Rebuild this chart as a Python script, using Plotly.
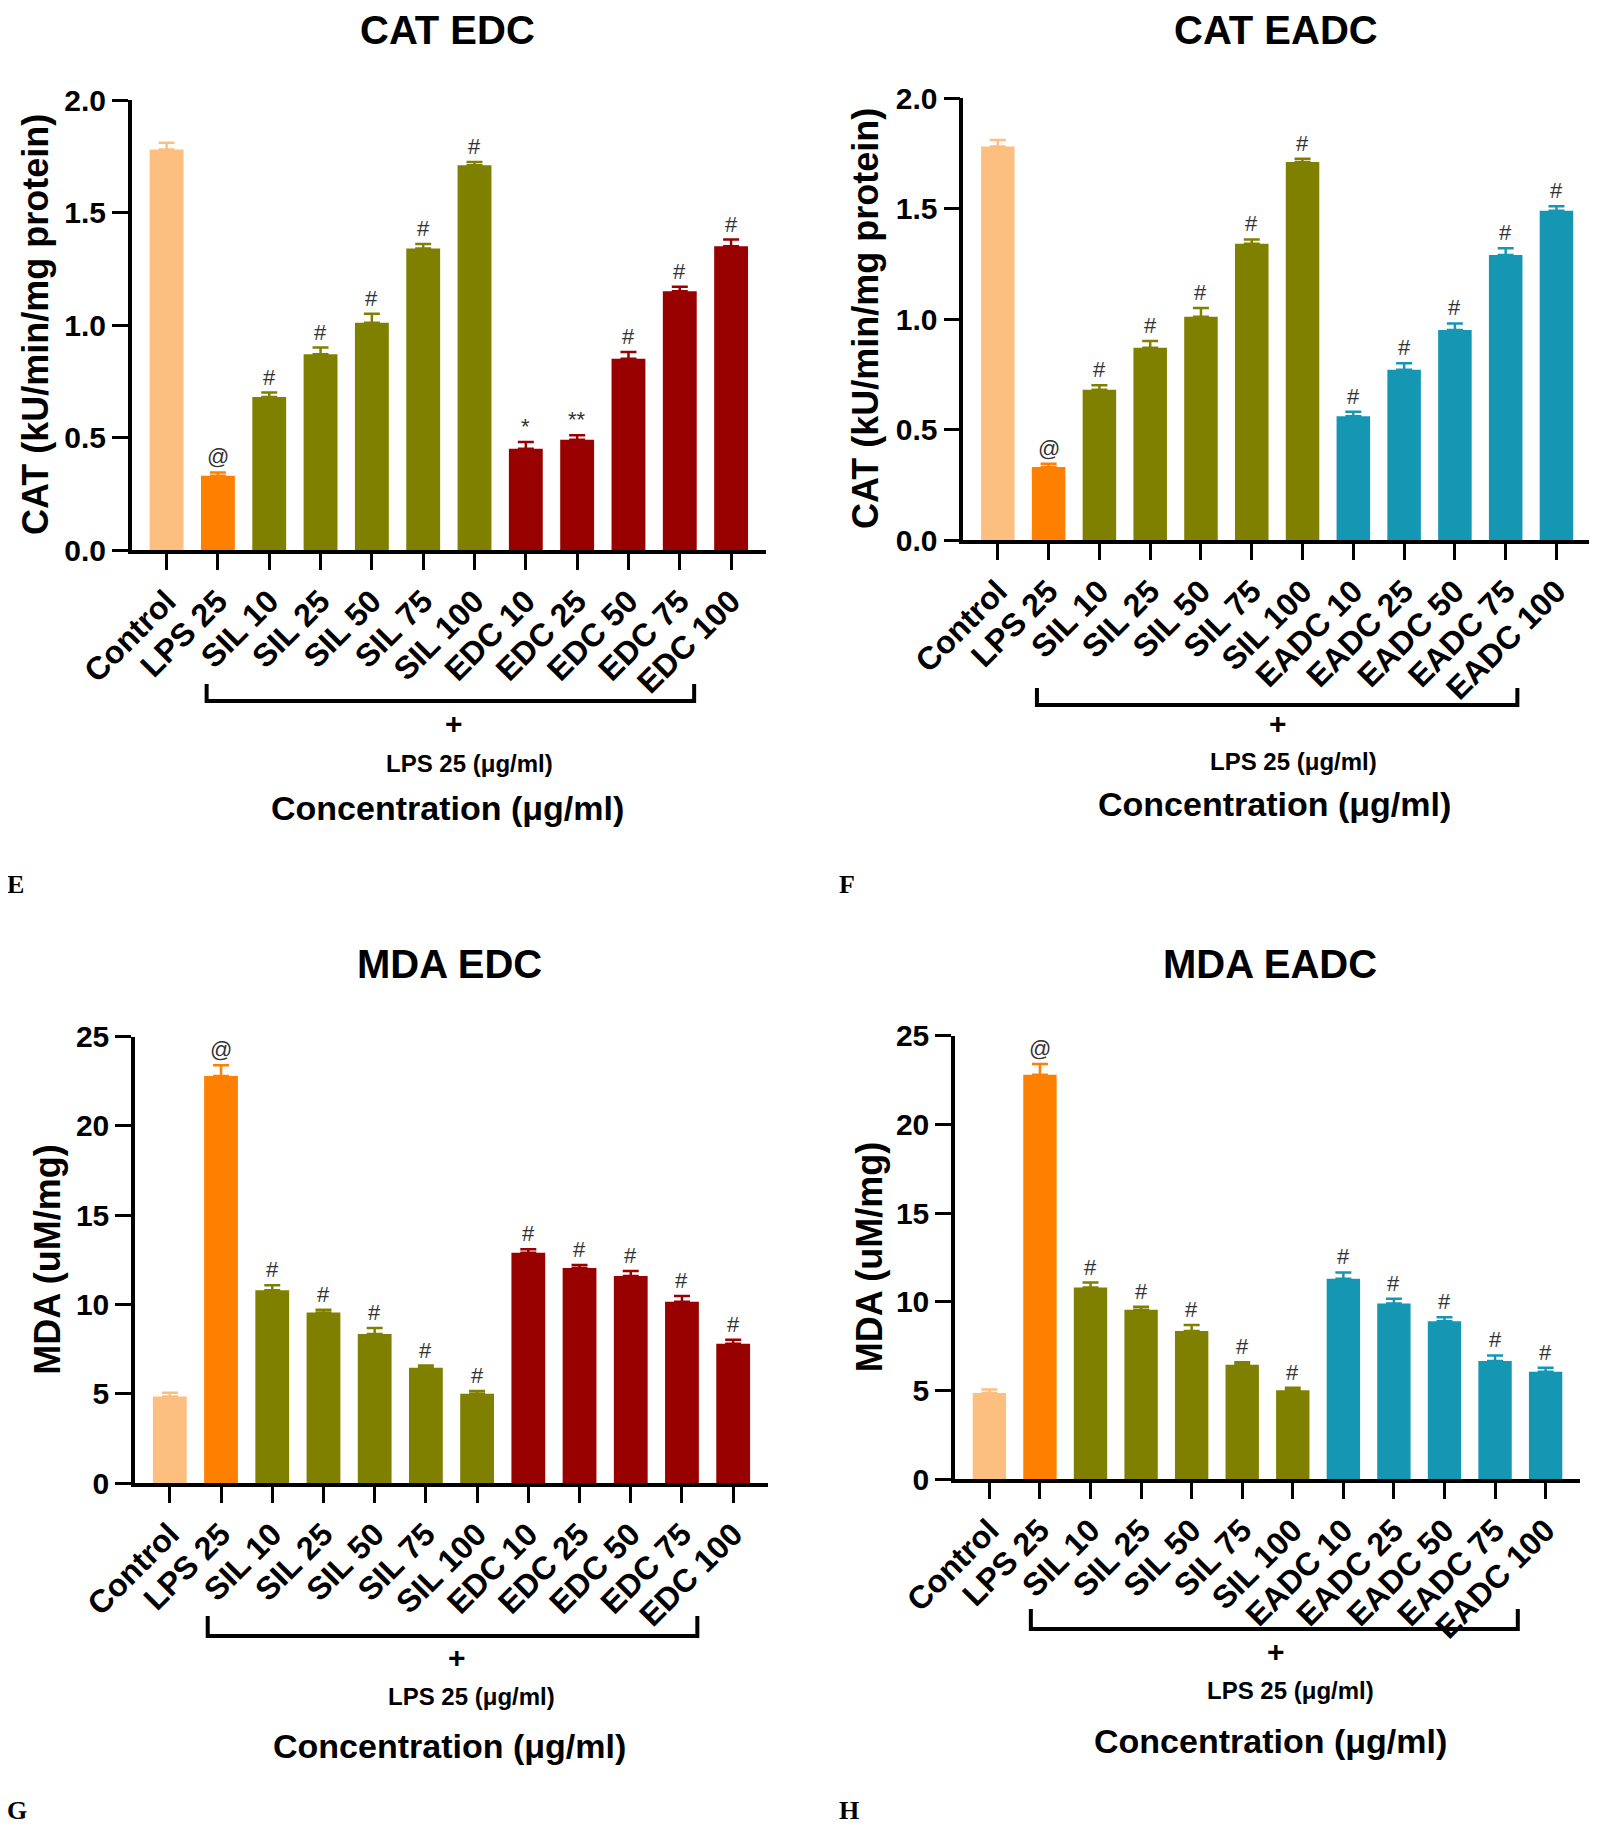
import plotly.graph_objects as go

# Tamaño de la ventana y del grafico (el body del html deja 8 px de margen)
W, H = 1597, 1826
OFF = 8
FW, FH = W - OFF, H - OFF

# Categorias
categorias_edc = ['Control', 'LPS 25', 'SIL 10', 'SIL 25', 'SIL 50', 'SIL 75', 'SIL 100',
                  'EDC 10', 'EDC 25', 'EDC 50', 'EDC 75', 'EDC 100']
categorias_eadc = ['Control', 'LPS 25', 'SIL 10', 'SIL 25', 'SIL 50', 'SIL 75', 'SIL 100',
                   'EADC 10', 'EADC 25', 'EADC 50', 'EADC 75', 'EADC 100']

# Datos CAT
cat_edc = [1.78, 0.33, 0.68, 0.87, 1.01, 1.34, 1.71, 0.45, 0.49, 0.85, 1.15, 1.35]
cat_edc_err = [0.03, 0.015, 0.02, 0.03, 0.04, 0.02, 0.015, 0.03, 0.02, 0.03, 0.02, 0.03]
cat_eadc = [1.78, 0.33, 0.68, 0.87, 1.01, 1.34, 1.71, 0.56, 0.77, 0.95, 1.29, 1.49]
cat_eadc_err = [0.03, 0.015, 0.02, 0.03, 0.04, 0.02, 0.015, 0.02, 0.03, 0.03, 0.03, 0.02]

# Datos MDA
mda_edc = [4.85, 22.8, 10.8, 9.55, 8.35, 6.45, 5.0, 12.9, 12.05, 11.6, 10.15, 7.8]
mda_edc_err = [0.2, 0.6, 0.28, 0.16, 0.33, 0.13, 0.15, 0.19, 0.16, 0.28, 0.32, 0.22]
mda_eadc = [4.85, 22.8, 10.8, 9.55, 8.35, 6.45, 5.0, 11.3, 9.9, 8.9, 6.65, 6.05]
mda_eadc_err = [0.2, 0.6, 0.28, 0.16, 0.33, 0.13, 0.15, 0.35, 0.26, 0.22, 0.32, 0.22]

# Marcas de significancia
marcas_cat_edc = ['', '@', '#', '#', '#', '#', '#', '*', '**', '#', '#', '#']
marcas_todas = ['', '@', '#', '#', '#', '#', '#', '#', '#', '#', '#', '#']

# Colores
c_control, c_lps, c_sil = '#FDBF80', '#FF8000', '#808000'
c_edc, c_eadc = '#990000', '#1597B4'
colores_edc = [c_control, c_lps] + [c_sil] * 5 + [c_edc] * 5
colores_eadc = [c_control, c_lps] + [c_sil] * 5 + [c_eadc] * 5

FUENTE = 'Liberation Sans, Arial, sans-serif'


def px(x, y):
    # pixeles de la ventana -> coordenadas paper
    return (x - OFF) / FW, 1 - (y - OFF) / FH


paneles = [
    dict(titulo='CAT EDC', cats=categorias_edc, vals=cat_edc, err=cat_edc_err, col=colores_edc,
         marcas=marcas_cat_edc, ytit='CAT (kU/min/mg protein)', rango=[0, 2.0], dtick=0.5, fmt='.1f',
         caja=(131.7, 766, 550, 100), tit=(447, 30), yt=35, br=(0.78, 10.28, 701, 684),
         mas=(454, 724), lps=(469, 764), conc=(447, 808), letra=('E', 5, 884)),
    dict(titulo='CAT EADC', cats=categorias_eadc, vals=cat_eadc, err=cat_eadc_err, col=colores_eadc,
         marcas=marcas_todas, ytit='CAT (kU/min/mg protein)', rango=[0, 2.0], dtick=0.5, fmt='.1f',
         caja=(963.3, 1591, 540, 98), tit=(1276, 30), yt=866, br=(0.77, 10.23, 705, 688),
         mas=(1278, 723), lps=(1293, 761), conc=(1274, 804), letra=('F', 837, 884)),
    dict(titulo='MDA EDC', cats=categorias_edc, vals=mda_edc, err=mda_edc_err, col=colores_edc,
         marcas=marcas_todas, ytit='MDA (uM/mg)', rango=[0, 25], dtick=5, fmt='d',
         caja=(135, 768, 1483, 1036.7), tit=(449, 964), yt=48, br=(0.74, 10.3, 1636, 1616),
         mas=(457, 1657), lps=(471, 1696), conc=(449, 1746), letra=('G', 5, 1810)),
    dict(titulo='MDA EADC', cats=categorias_eadc, vals=mda_eadc, err=mda_eadc_err, col=colores_eadc,
         marcas=marcas_todas, ytit='MDA (uM/mg)', rango=[0, 25], dtick=5, fmt='d',
         caja=(955, 1580, 1479, 1035.7), tit=(1270, 964), yt=869, br=(0.82, 10.45, 1629, 1609),
         mas=(1276, 1651), lps=(1290, 1690), conc=(1270, 1741), letra=('H', 837, 1810)),
]

fig = go.Figure()
anotaciones = []
formas = []


def texto(x, y, t, size, angle=0, bold=True, anchor='center', family=FUENTE):
    xp, yp = px(x, y)
    anotaciones.append(dict(x=xp, y=yp, xref='paper', yref='paper', text=t, showarrow=False,
                            xanchor=anchor, yanchor='middle', textangle=angle,
                            font=dict(family=family, size=size, color='black',
                                      weight='bold' if bold else 'normal')))


for i, p in enumerate(paneles, start=1):
    xa = 'x' if i == 1 else f'x{i}'
    ya = 'y' if i == 1 else f'y{i}'
    x0, x1, yb, yt = p['caja']
    dx0, dy0 = px(x0, yb)
    dx1, dy1 = px(x1, yt)

    # una traza por barra para que la barra de error tenga el color de su barra
    for c, v, e, col in zip(p['cats'], p['vals'], p['err'], p['col']):
        fig.add_trace(go.Bar(
            x=[c], y=[v], marker_color=col, marker_line_width=0, width=0.66,
            error_y=dict(type='data', symmetric=False, array=[e], arrayminus=[0],
                         color=col, thickness=2.5, width=8),
            xaxis=xa, yaxis=ya, showlegend=False))

    eje_x = dict(domain=[dx0, dx1], anchor=ya, type='category',
                 categoryorder='array', categoryarray=p['cats'], range=[-0.68, 11.68],
                 showline=True, linecolor='black', linewidth=3.5, ticks='outside',
                 ticklen=16, tickwidth=3, tickcolor='black', tickangle=-45,
                 tickfont=dict(family=FUENTE, size=32, color='black', weight='bold'),
                 showgrid=False, zeroline=False, fixedrange=True, automargin=False)
    eje_y = dict(domain=[dy0, dy1], anchor=xa, range=p['rango'], dtick=p['dtick'],
                 tickformat=p['fmt'], showline=True, linecolor='black', linewidth=3.5,
                 ticks='outside', ticklen=16, tickwidth=3, tickcolor='black',
                 tickfont=dict(family=FUENTE, size=30, color='black', weight='bold'),
                 showgrid=False, zeroline=False, fixedrange=True, automargin=False)
    fig.update_layout({('xaxis' if i == 1 else f'xaxis{i}'): eje_x,
                       ('yaxis' if i == 1 else f'yaxis{i}'): eje_y})

    # marcas de significancia sobre las barras
    for c, v, e, m in zip(p['cats'], p['vals'], p['err'], p['marcas']):
        if m:
            anotaciones.append(dict(x=c, y=v + e, xref=xa, yref=ya, text=m, showarrow=False,
                                    xanchor='center', yanchor='bottom', yshift=1,
                                    font=dict(family=FUENTE, size=22, color='#333333')))

    texto(*p['tit'], p['titulo'], 40)
    texto(p['yt'], (yb + yt) / 2, p['ytit'], 36, angle=-90)
    texto(*p['mas'], '+', 30)
    texto(*p['lps'], 'LPS 25 (μg/ml)', 24)
    texto(*p['conc'], 'Concentration (μg/ml)', 34)
    letra, lx, ly = p['letra']
    texto(lx, ly, letra, 26, anchor='left', family='Liberation Serif, Times New Roman, serif')

    # corchete de "+ LPS 25"
    bx0, bx1, by, btop = p['br']
    yb_p, yt_p = px(0, by)[1], px(0, btop)[1]
    formas.append(dict(type='path', xref=xa, yref='paper',
                       path=f'M {bx0},{yt_p} L {bx0},{yb_p} L {bx1},{yb_p} L {bx1},{yt_p}',
                       line=dict(color='black', width=4)))

fig.update_layout(width=FW, height=FH, margin=dict(l=0, r=0, t=0, b=0, autoexpand=False),
                  plot_bgcolor='white', paper_bgcolor='white', showlegend=False,
                  barmode='overlay', annotations=anotaciones, shapes=formas)

fig.write_html('out.html')
